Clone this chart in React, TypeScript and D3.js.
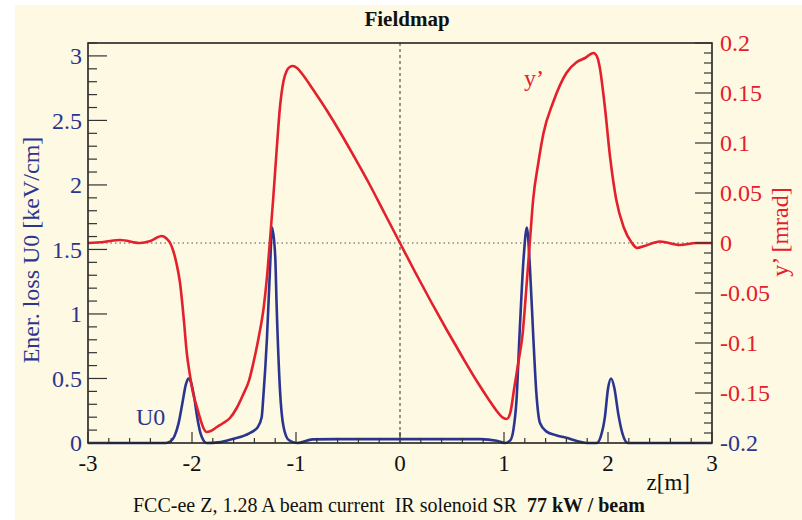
import React from "react";
import * as d3 from "d3";

// Vertical slope y' [mrad] along z [m]
const zYp = [
  -3.0, -2.85, -2.69, -2.5, -2.4, -2.29, -2.24, -2.21, -2.18, -2.15, -2.115, -2.08, -2.05, -2.02,
  -1.99, -1.95, -1.92, -1.89, -1.86, -1.82, -1.76, -1.7, -1.635, -1.57, -1.51, -1.45, -1.41, -1.36,
  -1.31, -1.28, -1.25, -1.218, -1.186, -1.154, -1.12, -1.09, -1.06, -1.03, -0.99, -0.94, -0.833,
  -0.7, -0.577, -0.45, -0.3, -0.15, 0, 0.15, 0.3, 0.45, 0.6, 0.75, 0.85, 0.93, 0.98, 1.026, 1.06,
  1.1, 1.14, 1.18, 1.215, 1.25, 1.28, 1.33, 1.38, 1.47, 1.6, 1.7, 1.78, 1.86, 1.9, 1.92, 1.97,
  2.02, 2.08, 2.15, 2.23, 2.28, 2.35, 2.5, 2.69, 2.85, 3.0,
];
const ypValues = [
  0.0, 0.001, 0.003, 0.0, 0.002, 0.007, 0.004, 0.0, -0.008, -0.02, -0.04, -0.075, -0.11, -0.132,
  -0.15, -0.165, -0.176, -0.185, -0.189, -0.188, -0.184, -0.18, -0.175, -0.165, -0.152, -0.137,
  -0.12, -0.095, -0.064, -0.035, 0.003, 0.046, 0.093, 0.136, 0.162, 0.172, 0.176, 0.177, 0.175,
  0.169, 0.153, 0.132, 0.111, 0.088, 0.06, 0.03, 0.0, -0.03, -0.059, -0.087, -0.114, -0.14,
  -0.156, -0.168, -0.174, -0.176, -0.17, -0.144, -0.118, -0.09, -0.045, 0.003, 0.043, 0.08, 0.11,
  0.14, 0.17, 0.181, 0.185, 0.19, 0.185, 0.176, 0.136, 0.086, 0.043, 0.016, 0.0, -0.005, -0.003,
  0.0015, -0.002, 0.0, 0.0,
];

// Energy loss U0 [keV/cm] along z [m]
const zU0 = [
  -3.0, -2.25, -2.21, -2.17, -2.13, -2.09, -2.06, -2.035, -2.01, -1.98, -1.95, -1.92, -1.89, -1.86,
  -1.75, -1.66, -1.58, -1.45, -1.37, -1.33, -1.314, -1.28, -1.25, -1.23, -1.2, -1.186, -1.154,
  -1.12, -1.07, -0.99, -0.84, -0.5, 0, 0.5, 0.77, 0.93, 1.01, 1.06, 1.09, 1.12, 1.15, 1.19, 1.22,
  1.25, 1.28, 1.31, 1.346, 1.41, 1.5, 1.6, 1.7, 1.795, 1.89, 1.93, 1.97, 2.0, 2.03, 2.06, 2.1,
  2.14, 2.19, 3.0,
];
const u0Values = [
  0, 0, 0.01, 0.05, 0.15, 0.32, 0.45, 0.5, 0.47, 0.36, 0.2, 0.08, 0.02, 0.0, 0.005, 0.02, 0.036,
  0.075, 0.12, 0.2, 0.36, 0.8, 1.35, 1.67, 1.45, 1.06, 0.41, 0.126, 0.023, 0.0, 0.028, 0.03, 0.03,
  0.03, 0.03, 0.018, 0.0, 0.02, 0.1, 0.33, 0.85, 1.45, 1.67, 1.35, 0.85, 0.4, 0.155, 0.088, 0.06,
  0.04, 0.015, 0.0, 0.0, 0.05, 0.2, 0.42, 0.5, 0.43, 0.22, 0.07, 0.0, 0,
];

const xMajor = [-3, -2, -1, 0, 1, 2, 3];
const leftMajor = [0, 0.5, 1, 1.5, 2, 2.5, 3];
const leftLabels = ["0", "0.5", "1", "1.5", "2", "2.5", "3"];
const rightMajor = [-0.2, -0.15, -0.1, -0.05, 0, 0.05, 0.1, 0.15, 0.2];
const rightLabels = ["-0.2", "-0.15", "-0.1", "-0.05", "0", "0.05", "0.1", "0.15", "0.2"];

const RED = "#e3202c";
const BLUE = "#2b3590";
const FONT = "'Liberation Serif', 'Times New Roman', serif";

export default function App() {
  const left = 88, right = 712, top = 43, bottom = 443;
  const x = d3.scaleLinear().domain([-3, 3]).range([left, right]);
  const yL = d3.scaleLinear().domain([0, 3.1]).range([bottom, top]);
  const yR = d3.scaleLinear().domain([-0.2, 0.2]).range([bottom, top]);

  const redLine = d3
    .line<number>()
    .x((_, i) => x(zYp[i]))
    .y((d) => yR(d))
    .curve(d3.curveMonotoneX)(ypValues) as string;
  const blueLine = d3
    .line<number>()
    .x((_, i) => x(zU0[i]))
    .y((d) => yL(d))
    .curve(d3.curveMonotoneX)(u0Values) as string;

  const xMinor = d3.range(-3, 3.0001, 0.2).map((v) => +v.toFixed(2));
  const leftMinor = d3.range(0, 3.1001, 0.1).map((v) => +v.toFixed(2));
  const rightMinor = d3.range(-0.2, 0.2001, 0.01).map((v) => +v.toFixed(3));
  const isMajor = (v: number, arr: number[]) => arr.some((m) => Math.abs(m - v) < 1e-6);

  return (
    <svg
      width={802}
      height={520}
      style={{ position: "fixed", left: 0, top: 0, background: "#ffffff", fontFamily: FONT }}
    >
      <rect x={15} y={5} width={787} height={515} fill="#fdf9e3" />
      <text x={407} y={26} textAnchor="middle" fontSize={21} fontWeight="bold" fill="#111">
        Fieldmap
      </text>

      {/* reference lines */}
      <line x1={x(0)} x2={x(0)} y1={top} y2={bottom} stroke="#333" strokeWidth={1} strokeDasharray="3,3" />
      <line x1={left} x2={right} y1={yR(0)} y2={yR(0)} stroke="#555" strokeWidth={1.2} strokeDasharray="1.5,3" />

      {/* curves */}
      <path d={blueLine} fill="none" stroke={BLUE} strokeWidth={2.6} strokeLinejoin="round" />
      <path d={redLine} fill="none" stroke={RED} strokeWidth={2.6} strokeLinejoin="round" />

      {/* frame */}
      <rect x={left} y={top} width={right - left} height={bottom - top} fill="none" stroke="#222" strokeWidth={1.6} />

      {/* x ticks */}
      {xMinor.map((v) => (
        <line key={"xt" + v} x1={x(v)} x2={x(v)} y1={bottom} y2={bottom - (isMajor(v, xMajor) ? 11 : 5)} stroke="#333" strokeWidth={1.2} />
      ))}
      {xMajor.map((v) => (
        <text key={"xl" + v} x={x(v)} y={471} textAnchor="middle" fontSize={23} fill="#111">
          {v}
        </text>
      ))}
      <text x={690} y={490} textAnchor="end" fontSize={23} fill="#111">
        z[m]
      </text>

      {/* left axis */}
      {leftMinor.map((v) => (
        <line key={"lt" + v} x1={left} x2={left + (isMajor(v, leftMajor) ? 19 : 9)} y1={yL(v)} y2={yL(v)} stroke="#333" strokeWidth={1.2} />
      ))}
      {leftMajor.map((v, i) => (
        <text key={"ll" + v} x={82} y={yL(v)} dy="0.35em" textAnchor="end" fontSize={24} fill={BLUE}>
          {leftLabels[i]}
        </text>
      ))}
      <text transform="translate(39,250) rotate(-90)" textAnchor="middle" fontSize={24} fill={BLUE}>
        Ener. loss U0 [keV/cm]
      </text>

      {/* right axis */}
      {rightMinor.map((v) => (
        <line key={"rt" + v} x1={right} x2={right - (isMajor(v, rightMajor) ? 17 : 8)} y1={yR(v)} y2={yR(v)} stroke="#333" strokeWidth={1.2} />
      ))}
      {rightMajor.map((v, i) => (
        <text key={"rl" + v} x={720} y={yR(v)} dy="0.35em" textAnchor="start" fontSize={24} fill={i === 0 ? BLUE : RED}>
          {rightLabels[i]}
        </text>
      ))}
      <text transform="translate(788,232) rotate(-90)" textAnchor="middle" fontSize={24} fill={RED}>
        y’ [mrad]
      </text>

      {/* curve labels */}
      <text x={524} y={86} fontSize={24} fill={RED}>
        y’
      </text>
      <text x={136} y={425} fontSize={24} fill={BLUE}>
        U0
      </text>

      {/* caption */}
      <text x={133} y={512} fontSize={20} fill="#111">
        FCC-ee Z, 1.28 A beam current{"\u00a0\u00a0"}IR solenoid SR{"\u00a0\u00a0"}
        <tspan fontWeight="bold">77 kW / beam</tspan>
      </text>
    </svg>
  );
}
